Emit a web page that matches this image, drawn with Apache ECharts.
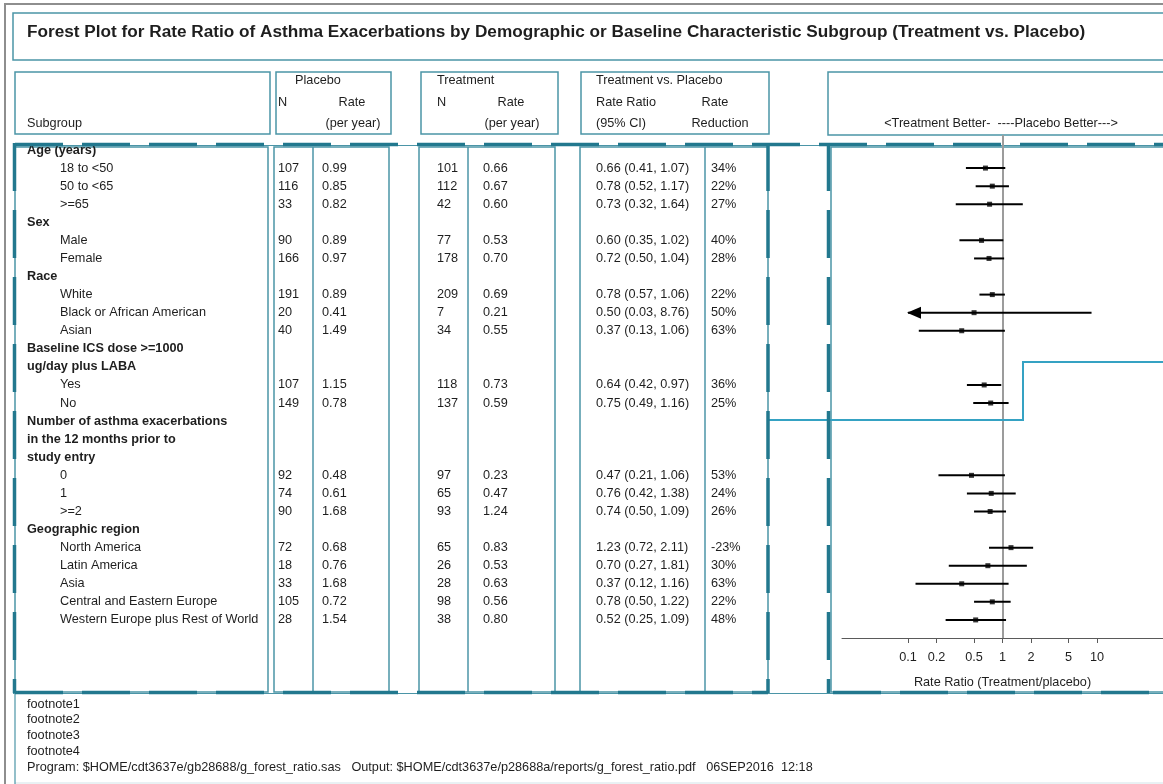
<!DOCTYPE html>
<html>
<head>
<meta charset="utf-8">
<title>Forest Plot - Asthma Exacerbations</title>
<script src="https://cdn.jsdelivr.net/npm/echarts@6/dist/echarts.min.js"></script>
<style>
  html, body { margin: 0; padding: 0; background: #fff; }
  #chart { width: 1163px; height: 784px; }
</style>
</head>
<body>
<div id="chart"></div>
<script>
// ---- data ----
const subgroupLabels = [
  "Age (years)", "18 to <50", "50 to <65", ">=65",
  "Sex", "Male", "Female",
  "Race", "White", "Black or African American", "Asian",
  "Baseline ICS dose >=1000", "ug/day plus LABA", "Yes", "No",
  "Number of asthma exacerbations", "in the 12 months prior to", "study entry", "0", "1", ">=2",
  "Geographic region", "North America", "Latin America", "Asia", "Central and Eastern Europe", "Western Europe plus Rest of World"
];
const headerRow = [1,0,0,0, 1,0,0, 1,0,0,0, 1,1,0,0, 1,1,1,0,0,0, 1,0,0,0,0,0];
const placeboN = [null,107,116,33, null,90,166, null,191,20,40, null,null,107,149, null,null,null,92,74,90, null,72,18,33,105,28];
const placeboRate = [null,0.99,0.85,0.82, null,0.89,0.97, null,0.89,0.41,1.49, null,null,1.15,0.78, null,null,null,0.48,0.61,1.68, null,0.68,0.76,1.68,0.72,1.54];
const treatmentN = [null,101,112,42, null,77,178, null,209,7,34, null,null,118,137, null,null,null,97,65,93, null,65,26,28,98,38];
const treatmentRate = [null,0.66,0.67,0.60, null,0.53,0.70, null,0.69,0.21,0.55, null,null,0.73,0.59, null,null,null,0.23,0.47,1.24, null,0.83,0.53,0.63,0.56,0.80];
const rateRatio = [null,0.66,0.78,0.73, null,0.60,0.72, null,0.78,0.50,0.37, null,null,0.64,0.75, null,null,null,0.47,0.76,0.74, null,1.23,0.70,0.37,0.78,0.52];
const ciLower = [null,0.41,0.52,0.32, null,0.35,0.50, null,0.57,0.03,0.13, null,null,0.42,0.49, null,null,null,0.21,0.42,0.50, null,0.72,0.27,0.12,0.50,0.25];
const ciUpper = [null,1.07,1.17,1.64, null,1.02,1.04, null,1.06,8.76,1.06, null,null,0.97,1.16, null,null,null,1.06,1.38,1.09, null,2.11,1.81,1.16,1.22,1.09];
const rateReduction = [null,34,22,27, null,40,28, null,22,50,63, null,null,36,25, null,null,null,53,24,26, null,-23,30,63,22,48];
const tickValues = [0.1, 0.2, 0.5, 1, 2, 5, 10];
const footnotes = ["footnote1", "footnote2", "footnote3", "footnote4",
  "Program: $HOME/cdt3637e/gb28688/g_forest_ratio.sas   Output: $HOME/cdt3637e/p28688a/reports/g_forest_ratio.pdf   06SEP2016  12:18"];

// ---- layout / styles ----
const FONT = '"Liberation Sans", Arial, sans-serif';
const FS = 12.7;
const TEXT = '#1e1e1e';
const THIN = '#4b95a7';
const THICK = '#22788e';
const DASH = [48, 19];
const COL = { label: 27, indent: 60, pN: 278, pRate: 322, tN: 437, tRate: 483, ratio: 596, reduction: 711 };

const chart = echarts.init(document.getElementById('chart'));

function txt(s, x, y, o) {
  o = o || {};
  const align = o.align || 'left';
  return {
    type: 'text', z: o.z || 5, silent: true,
    style: {
      text: s, x: x, y: y,
      font: (o.bold ? 'bold ' : '') + (o.size || FS) + 'px ' + FONT,
      fill: TEXT, align: align, textAlign: align,
      verticalAlign: 'middle', textVerticalAlign: 'middle'
    }
  };
}
function seg(x1, y1, x2, y2, stroke, w, dash, z) {
  return {
    type: 'line', z: z || 3, silent: true,
    shape: { x1: x1, y1: y1, x2: x2, y2: y2 },
    style: { stroke: stroke, lineWidth: w, lineDash: dash || null }
  };
}
function box(x, y, w, h, stroke, lw) {
  return {
    type: 'rect', z: 2, silent: true,
    shape: { x: x, y: y, width: w, height: h },
    style: { fill: 'none', stroke: stroke || THIN, lineWidth: lw || 1.5 }
  };
}

const graphics = [
  // outer frame
  seg(4, 4, 1163, 4, '#8e8e8e', 2),
  seg(5, 4, 5, 784, '#8e8e8e', 2),
  seg(15, 783, 1163, 783, '#d3e3e8', 1),
  seg(15, 693, 15, 784, THIN, 1.2),
  // title
  box(13, 13, 1160, 47),
  txt('Forest Plot for Rate Ratio of Asthma Exacerbations by Demographic or Baseline Characteristic Subgroup (Treatment vs. Placebo)', 27, 32, { bold: true, size: 17.2 }),
  // header boxes
  box(15, 72, 255, 62),
  box(276, 72, 115, 62),
  box(421, 72, 137, 62),
  box(581, 72, 188, 62),
  box(828, 72, 340, 63),
  txt('Subgroup', 27, 123),
  txt('Placebo', 318, 80, { align: 'center' }),
  txt('N', 278, 102),
  txt('Rate', 352, 102, { align: 'center' }),
  txt('(per year)', 353, 123, { align: 'center' }),
  txt('Treatment', 437, 80),
  txt('N', 437, 102),
  txt('Rate', 511, 102, { align: 'center' }),
  txt('(per year)', 512, 123, { align: 'center' }),
  txt('Treatment vs. Placebo', 596, 80),
  txt('Rate Ratio', 596, 102),
  txt('Rate', 715, 102, { align: 'center' }),
  txt('(95% CI)', 596, 123),
  txt('Reduction', 720, 123, { align: 'center' }),
  txt('<Treatment Better-  ----Placebo Better--->', 1001, 123, { align: 'center' }),
  // body inner boxes
  box(15, 147, 253, 545),
  box(274, 147, 115, 545),
  seg(313, 147, 313, 692, THIN, 1.5),
  box(419, 147, 136, 545),
  seg(468, 147, 468, 692, THIN, 1.5),
  box(580, 147, 188, 545),
  seg(705, 147, 705, 692, THIN, 1.5),
  box(831, 147, 340, 545),
  // body frame: thin rules + thick dashed rules
  seg(13, 145.5, 1163, 145.5, THIN, 1.2),
  seg(13, 693.5, 1163, 693.5, THIN, 1.2),
  seg(15, 144.5, 1163, 144.5, THICK, 3.5, DASH, 20),
  seg(15, 692.5, 768, 692.5, THICK, 3.5, DASH, 20),
  seg(833, 692.5, 1163, 692.5, THICK, 3.5, DASH, 20),
  seg(14.5, 143, 14.5, 693, THICK, 3.5, DASH, 20),
  seg(768, 143, 768, 693, THICK, 3.5, DASH, 20),
  seg(828.5, 143, 828.5, 693, THICK, 3.5, DASH, 20),
  // stepped rule crossing the plot
  {
    type: 'polyline', z: 6, silent: true,
    shape: { points: [[768, 420], [1023, 420], [1023, 362], [1170, 362]] },
    style: { stroke: '#35a2c3', lineWidth: 2, fill: 'none' }
  }
];
footnotes.forEach(function (f, i) {
  graphics.push(txt(f, 27, 704 + i * 15.8));
});

const ciData = [];
const estData = [];
rateRatio.forEach(function (r, i) {
  if (r == null) return;
  ciData.push([r, ciLower[i], ciUpper[i], i]);
  estData.push([r, i]);
});
const rowData = subgroupLabels.map(function (_, i) { return [1, i]; });

function fmt2(v) { return v.toFixed(2); }

const option = {
  animation: false,
  backgroundColor: '#fff',
  grid: { left: 842, width: 323, top: 135, bottom: 146 },
  xAxis: {
    type: 'log',
    logBase: 10,
    min: 0.02,
    max: 50,
    position: 'bottom',
    name: 'Rate Ratio (Treatment/placebo)',
    nameLocation: 'middle',
    nameGap: 38,
    nameTextStyle: { fontFamily: FONT, fontSize: FS, color: TEXT },
    axisLine: { onZero: false, lineStyle: { color: '#5a5a5a', width: 1 } },
    axisTick: { customValues: tickValues, length: 5, lineStyle: { color: '#5a5a5a' } },
    axisLabel: {
      customValues: tickValues,
      margin: 13,
      fontFamily: FONT, fontSize: FS, color: TEXT,
      formatter: function (v) { return String(+Number(v).toPrecision(3)); }
    },
    splitLine: { show: false },
    minorTick: { show: false }
  },
  yAxis: {
    type: 'value',
    inverse: true,
    min: -0.83,
    max: 27,
    show: false
  },
  graphic: { elements: graphics },
  series: [
    {
      // table cells, positioned on the row scale
      type: 'custom',
      silent: true,
      clip: false,
      data: rowData,
      encode: { x: 0, y: 1 },
      z: 4,
      renderItem: function (params, api) {
        const i = params.dataIndex;
        const y = api.coord([1, i])[1];
        const kids = [txt(subgroupLabels[i], headerRow[i] ? COL.label : COL.indent, y, { bold: !!headerRow[i] })];
        if (placeboN[i] != null) {
          kids.push(txt(String(placeboN[i]), COL.pN, y));
          kids.push(txt(fmt2(placeboRate[i]), COL.pRate, y));
          kids.push(txt(String(treatmentN[i]), COL.tN, y));
          kids.push(txt(fmt2(treatmentRate[i]), COL.tRate, y));
          kids.push(txt(fmt2(rateRatio[i]) + ' (' + fmt2(ciLower[i]) + ', ' + fmt2(ciUpper[i]) + ')', COL.ratio, y));
          kids.push(txt(rateReduction[i] + '%', COL.reduction, y));
        }
        return { type: 'group', children: kids };
      }
    },
    {
      // confidence intervals, arrow where clipped at the lowest tick
      type: 'custom',
      silent: true,
      clip: false,
      data: ciData,
      encode: { x: [0, 1, 2], y: 3 },
      z: 5,
      renderItem: function (params, api) {
        const row = api.value(3);
        const lo = api.value(1), hi = api.value(2);
        const y = api.coord([1, row])[1];
        const x1 = api.coord([Math.max(lo, tickValues[0]), row])[0];
        const x2 = api.coord([hi, row])[0];
        const kids = [{
          type: 'line',
          shape: { x1: x1, y1: y, x2: x2, y2: y },
          style: { stroke: '#000', lineWidth: 2 }
        }];
        if (lo < tickValues[0]) {
          kids.push({
            type: 'polygon',
            shape: { points: [[x1 - 1, y], [x1 + 13, y - 6], [x1 + 13, y + 6]] },
            style: { fill: '#000' }
          });
        }
        return { type: 'group', children: kids };
      }
    },
    {
      type: 'scatter',
      silent: true,
      data: estData,
      symbol: 'rect',
      symbolSize: [5, 5],
      itemStyle: { color: '#000' },
      z: 6,
      markLine: {
        silent: true,
        symbol: 'none',
        label: { show: false },
        lineStyle: { color: '#9c9c9c', width: 2, type: 'solid' },
        data: [{ xAxis: 1 }]
      }
    }
  ]
};

option && chart.setOption(option);
</script>
</body>
</html>
